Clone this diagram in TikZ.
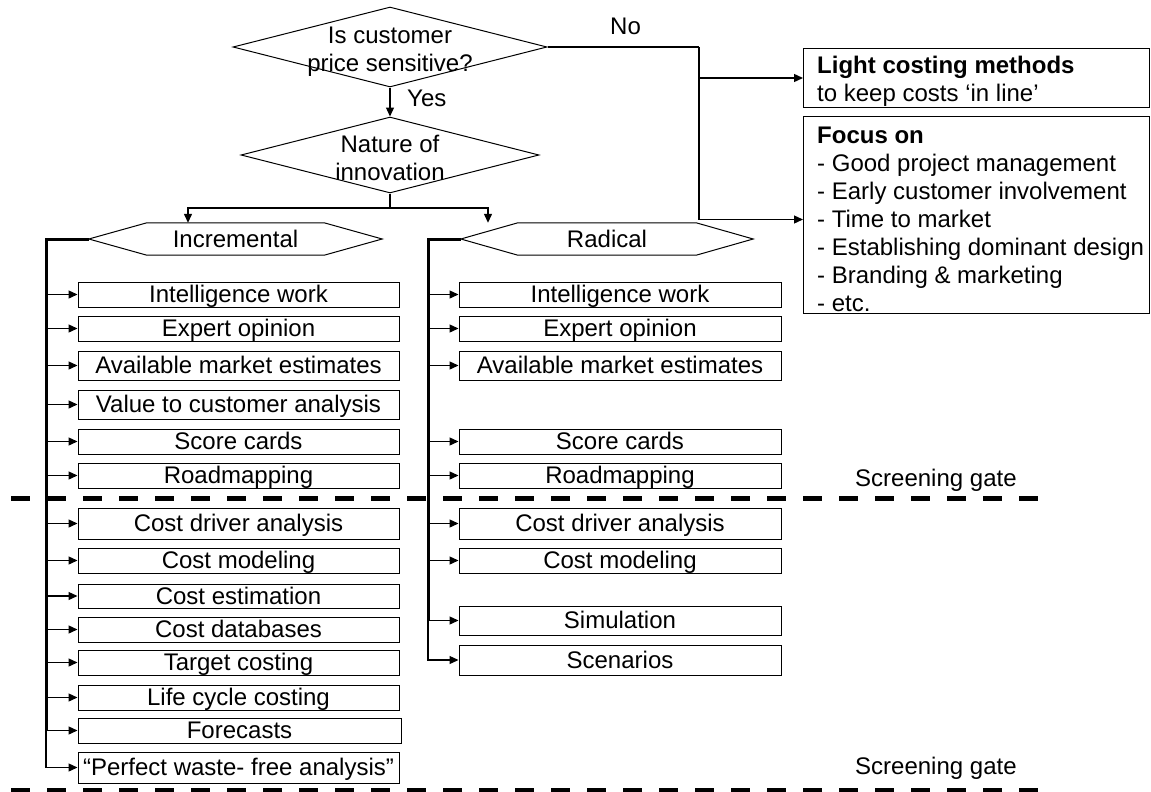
\documentclass[tikz,border=0pt]{standalone}
\usepackage{fontspec}
\setmainfont{Liberation Sans}
\usetikzlibrary{arrows.meta,shapes.geometric}
\begin{document}
\begin{tikzpicture}[x=1pt,y=-1pt,
  every node/.style={font=\fontsize{24}{28}\selectfont},
  conn/.style={line width=1.3pt},
  arr/.style={line width=1.3pt,-{Triangle[length=9pt,width=8pt]}},
  spine/.style={line width=3pt},
  decision/.style={diamond,draw,line width=1pt,inner sep=0pt},
  hexbox/.style={rectangle,inner sep=0pt,minimum height=32pt,text height=18pt,text depth=2pt},
  hexline/.style={line width=1pt},
  method/.style={rectangle,draw,line width=1pt,inner sep=0pt,text height=18pt,text depth=2pt,minimum height=25pt},
  incbox/.style={method,minimum width=321pt},
  radbox/.style={method,minimum width=322pt},
  note/.style={rectangle,draw,line width=1pt,anchor=north west,minimum width=346pt,inner sep=0pt},
  notetext/.style={anchor=west,align=left,inner sep=0pt},
  gate/.style={line width=5pt,dash pattern=on 19pt off 17pt},
  tag/.style={anchor=base west,inner sep=0pt}
]
\useasboundingbox (0,0) rectangle (1151,792);

% decisions
\node[decision,minimum width=314pt,minimum height=80pt] (q1) at (390,47) {};
\node[align=center,inner sep=0pt] (q1text) at (390,52) {Is customer\\price sensitive?};
\node[decision,minimum width=298pt,minimum height=76pt] (q2) at (390,155) {};
\node[align=center,inner sep=0pt] (q2text) at (390,157.5) {Nature of\\innovation};

\node[tag] (yes) at (407,106) {Yes};
\node[tag] (no) at (610,35) {No};

% innovation types
\node[hexbox,minimum width=293pt] (inc) at (235.5,239) {Incremental};
\node[hexbox,minimum width=292pt] (rad) at (607,239) {Radical};
\draw[hexline] (inc.west) -- ([xshift=58pt]inc.north west) -- ([xshift=-58pt]inc.north east)
  -- (inc.east) -- ([xshift=-58pt]inc.south east) -- ([xshift=58pt]inc.south west) -- cycle;
\draw[hexline] (rad.west) -- ([xshift=57pt]rad.north west) -- ([xshift=-57pt]rad.north east)
  -- (rad.east) -- ([xshift=-57pt]rad.south east) -- ([xshift=57pt]rad.south west) -- cycle;

% right-hand notes
\node[note,minimum height=59pt] (light) at (803,48) {};
\node[notetext] (lighttext) at (817,81.5)
  {\textbf{Light costing methods}\\to keep costs ‘in line’};
\node[note,minimum height=197pt] (focus) at (803,116) {};
\node[notetext] (focustext) at (817,219)
  {\textbf{Focus on}\\- Good project management\\- Early customer involvement\\- Time to market\\- Establishing dominant design\\- Branding \& marketing\\- etc.};

% incremental methods
\node[incbox] (i1) at (238.5,294.5) {Intelligence work};
\node[incbox] (i2) at (238.5,328.5) {Expert opinion};
\node[incbox,minimum height=29pt] (i3) at (238.5,365.5) {Available market estimates};
\node[incbox,minimum height=29pt] (i4) at (238.5,404.5) {Value to customer analysis};
\node[incbox] (i5) at (238.5,441.5) {Score cards};
\node[incbox] (i6) at (238.5,475.5) {Roadmapping};
\node[incbox,minimum height=31pt] (i7) at (238.5,523.5) {Cost driver analysis};
\node[incbox] (i8) at (238.5,560.5) {Cost modeling};
\node[incbox,minimum height=24pt] (i9) at (238.5,596) {Cost estimation};
\node[incbox] (i10) at (238.5,629.5) {Cost databases};
\node[incbox] (i11) at (238.5,662.5) {Target costing};
\node[incbox] (i12) at (238.5,697.5) {Life cycle costing};
\node[method,minimum width=323pt] (i13) at (239.5,730.5) {Forecasts};
\node[incbox,minimum height=31pt] (i14) at (238.5,767.5) {“Perfect waste- free analysis”};

% radical methods
\node[radbox] (r1) at (620,294.5) {Intelligence work};
\node[radbox] (r2) at (620,328.5) {Expert opinion};
\node[radbox,minimum height=29pt] (r3) at (620,365.5) {Available market estimates};
\node[radbox] (r5) at (620,441.5) {Score cards};
\node[radbox] (r6) at (620,475.5) {Roadmapping};
\node[radbox,minimum height=31pt] (r7) at (620,523.5) {Cost driver analysis};
\node[radbox] (r8) at (620,560.5) {Cost modeling};
\node[radbox,minimum height=29pt] (r9) at (620,620.5) {Simulation};
\node[radbox,minimum height=30pt] (r10) at (620,660) {Scenarios};

% screening gates
\node[tag] (gate1) at (855,486) {Screening gate};
\node[tag] (gate2) at (855,774) {Screening gate};
\coordinate (g1a) at (11,498);
\coordinate (g1b) at (1050,498);
\coordinate (g2a) at (11,790);
\coordinate (g2b) at (1050,790);
\draw[gate] (g1a) -- (g1b);
\draw[gate] (g2a) -- (g2b);

% decision flow
\coordinate (nojoin) at (699,47);
\coordinate (focusin) at ([yshift=-4.5pt]focus.west);
\draw[conn] (q1.east) -- (nojoin);
\draw[arr] (nojoin) |- (focusin);
\draw[arr] (nojoin |- light.west) -- (light.west);
\draw[arr] (q1.south) -- (q2.north);
\coordinate (split) at (390,208);
\draw[conn] (q2.south) -- (split);
\draw[arr] (split) -| ([xshift=-47.5pt]inc.north);
\draw[arr] (split) -| ([xshift=-119pt]rad.north);

% incremental spine
\coordinate (ispine) at (46,239);
\draw[spine] (inc.west) -- (ispine) -- (ispine |- i13.west);
\foreach \b in {i1,i2,i3,i4,i5,i6,i7,i8,i9,i10,i11,i12,i13}
  \draw[arr] (ispine |- \b.west) -- (\b.west);
\draw[arr] (ispine |- i13.west) |- (i14.west);

% radical spine
\coordinate (rspine) at (428,239);
\draw[spine] (rad.west) -- (rspine) -- (rspine |- r9.west);
\foreach \b in {r1,r2,r3,r5,r6,r7,r8,r9}
  \draw[arr] (rspine |- \b.west) -- (\b.west);
\draw[arr] (rspine |- r9.west) |- (r10.west);
\end{tikzpicture}
\end{document}
